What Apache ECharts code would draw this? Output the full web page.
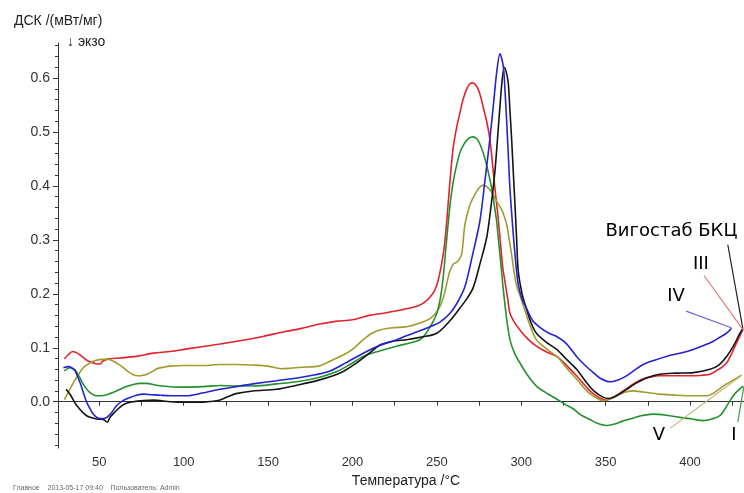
<!DOCTYPE html>
<html>
<head>
    <meta http-equiv="Content-Type" content="text/html; charset=utf-8" />
    <title>ДСК</title>
    <script src="https://cdn.jsdelivr.net/npm/echarts@6/dist/echarts.min.js"></script>
</head>
<body style="margin:0;padding:0;background:#ffffff;">
    <div id="main" style="width:744px;height:493px;"></div>
    <script type="text/javascript">
        /*************************************************************
        * data: [temperature °C, DSC mW/mg]
        *************************************************************/
        var xLabelValues = [50, 100, 150, 200, 250, 300, 350, 400];
        var xTickValues = [50, 75, 100, 125, 150, 175, 200, 225, 250, 275, 300, 325, 350, 375, 400, 425];
        var yLabelValues = [0, 0.1, 0.2, 0.3, 0.4, 0.5, 0.6];
        var yMinorValues = [-0.08, -0.06, -0.04, -0.02, 0, 0.02, 0.04, 0.06, 0.08, 0.1, 0.12, 0.14, 0.16, 0.18, 0.2,
            0.22, 0.24, 0.26, 0.28, 0.3, 0.32, 0.34, 0.36, 0.38, 0.4, 0.42, 0.44, 0.46, 0.48, 0.5,
            0.52, 0.54, 0.56, 0.58, 0.6, 0.62, 0.64, 0.66];

        // Вигостаб БКЦ
        var curveBlack = [[30.3,0.023],[33,0.012],[36.6,-0.007],[42.5,-0.026],[48.5,-0.032],[52.4,-0.033],[54.7,-0.038],
            [56.3,-0.029],[59,-0.02],[62.3,-0.01],[66,-0.003],[70,0.0],[76,0.002],[82,0.003],[92,0.0],[102,-0.001],
            [111.6,-0.001],[117,0.001],[121.5,0.003],[126,0.009],[131,0.015],[141,0.02],[155,0.023],[169,0.032],[180,0.04],
            [188.5,0.048],[195,0.057],[202.5,0.072],[210,0.09],[216.3,0.105],[224,0.112],[232,0.115],[241,0.12],
            [250,0.127],[257.7,0.15],[264,0.175],[268,0.192],[271.6,0.212],[275.5,0.255],[279.5,0.304],[282,0.36],
            [284.4,0.427],[286,0.49],[287.4,0.548],[288.8,0.6],[290,0.62],[291.2,0.61],[292.3,0.591],[293.3,0.54],
            [294.3,0.487],[295.3,0.425],[296.3,0.365],[297.3,0.3],[298.2,0.243],[300.5,0.2],[302.7,0.176],[306,0.145],
            [309,0.127],[315,0.11],[321,0.097],[327,0.078],[332.8,0.06],[338.8,0.035],[343,0.02],[348.6,0.008],
            [352,0.006],[356.5,0.011],[362,0.022],[368.4,0.035],[375,0.045],[382,0.051],[392,0.053],[402,0.054],
            [411.8,0.06],[417,0.068],[421.7,0.084],[426,0.105],[429.6,0.127],[431.4,0.136]];
        // III
        var curveRed = [[29.3,0.079],[31.5,0.087],[34.2,0.093],[37,0.09],[40,0.083],[43,0.076],[46.4,0.072],[48.6,0.07],
            [50.5,0.07],[52,0.075],[55,0.079],[62,0.081],[72,0.084],[82,0.09],[92,0.093],[102,0.098],[121.5,0.107],
            [135,0.114],[147,0.121],[160,0.13],[170,0.136],[180.7,0.144],[190,0.149],[200,0.152],[210,0.16],[220,0.165],
            [230,0.171],[239,0.178],[243,0.185],[246,0.194],[248.5,0.205],[250.5,0.222],[252.5,0.25],[254.5,0.29],
            [256,0.34],[257.8,0.41],[259.6,0.469],[261.5,0.505],[263.7,0.536],[265.5,0.56],[267.6,0.579],[269.5,0.589],
            [271,0.591],[272.8,0.588],[274.4,0.58],[276,0.565],[277.3,0.548],[279.5,0.52],[281.4,0.487],[283,0.44],
            [284.4,0.396],[286,0.35],[287.4,0.304],[289,0.25],[290.5,0.22],[292,0.19],[293.3,0.164],[296,0.147],
            [299.2,0.133],[304,0.116],[309,0.103],[315,0.092],[321,0.084],[327,0.067],[332.8,0.048],[337,0.033],
            [340.7,0.02],[344,0.012],[347,0.006],[350.6,0.003],[354,0.007],[358,0.015],[362.4,0.024],[367,0.034],
            [372,0.042],[377,0.046],[382,0.048],[392,0.048],[401.8,0.048],[407,0.049],[411.8,0.051],[416,0.058],
            [419,0.064],[421.7,0.072],[424.5,0.088],[427.6,0.109],[431.4,0.134]];
        // IV
        var curveBlue = [[28.7,0.063],[31.6,0.065],[33.5,0.063],[35.6,0.057],[38.6,0.035],[40.5,0.017],[42.5,-0.001],
            [44.5,-0.013],[46.4,-0.023],[48.5,-0.029],[50.4,-0.031],[52.4,-0.031],[54.4,-0.029],[57.3,-0.02],
            [60.3,-0.007],[64,0.002],[68.2,0.008],[72,0.012],[76,0.014],[81,0.013],[86,0.012],[94,0.011],[101.8,0.011],
            [111,0.016],[121.5,0.023],[131,0.028],[141,0.033],[155,0.039],[169,0.045],[178,0.05],[186.7,0.057],
            [196,0.072],[206.4,0.09],[216,0.104],[226.2,0.115],[236,0.127],[246,0.139],[252,0.148],[257.8,0.164],
            [262,0.183],[266.5,0.212],[271,0.27],[275.5,0.335],[278.5,0.41],[281.4,0.487],[283.5,0.55],[285.4,0.609],
            [287.4,0.645],[289.4,0.621],[290.4,0.575],[291.4,0.518],[292.3,0.46],[293.3,0.396],[294.8,0.33],
            [296.3,0.273],[298.2,0.218],[300.5,0.19],[302.7,0.176],[306.6,0.151],[311,0.138],[316.5,0.127],[321,0.121],
            [326.3,0.109],[332.8,0.084],[337,0.07],[342.7,0.054],[347,0.043],[352.5,0.037],[357,0.04],[362.4,0.048],
            [367,0.058],[372.3,0.069],[379,0.077],[386,0.084],[394,0.09],[402,0.097],[408,0.104],[413.8,0.112],
            [418,0.12],[421.7,0.127],[424.6,0.136]];
        // I
        var curveGreen = [[29.3,0.057],[32.6,0.063],[35.6,0.059],[38,0.047],[40.5,0.032],[42.5,0.023],[44.5,0.017],
            [48.5,0.011],[51,0.011],[54.4,0.013],[58,0.017],[62.3,0.023],[66,0.028],[70.1,0.032],[74,0.034],[78,0.034],
            [83,0.031],[87.9,0.029],[97.8,0.027],[111.6,0.028],[121.5,0.03],[131,0.029],[141,0.029],[155,0.033],
            [169,0.038],[180,0.045],[190,0.055],[198,0.068],[206.4,0.084],[216,0.094],[226,0.103],[234,0.109],
            [240,0.115],[243,0.124],[246,0.139],[248,0.15],[250,0.164],[252,0.19],[253.8,0.232],[255.5,0.29],
            [257.8,0.365],[259.8,0.41],[261.7,0.438],[263.5,0.46],[265.6,0.475],[268,0.486],[271.2,0.491],[273,0.489],
            [274.5,0.484],[276.5,0.47],[278.5,0.451],[280.5,0.425],[282.5,0.396],[284,0.365],[285.4,0.335],[286.5,0.3],
            [287.4,0.273],[288.4,0.24],[289.3,0.21],[291.3,0.155],[293.3,0.115],[296,0.09],[299.2,0.072],[304,0.048],
            [309,0.029],[315,0.016],[321,0.005],[326,-0.005],[330.8,-0.013],[335,-0.024],[340.7,-0.033],[345,-0.04],
            [350.6,-0.044],[356,-0.041],[360,-0.036],[364.4,-0.032],[371,-0.026],[378.2,-0.023],[386,-0.025],
            [394,-0.029],[401,-0.032],[407.8,-0.035],[413,-0.032],[417.7,-0.026],[421,-0.012],[425.6,0.011],
            [428.5,0.021],[431.5,0.029]];
        // V
        var curveOlive = [[29.3,0.004],[32,0.02],[34.6,0.035],[37.5,0.05],[40.5,0.063],[43.5,0.07],[46.4,0.075],
            [50,0.078],[54.4,0.079],[56.5,0.078],[58.3,0.075],[61,0.07],[64.2,0.063],[67,0.056],[70.1,0.05],[73,0.048],
            [76,0.049],[79,0.052],[82,0.057],[84,0.061],[88,0.064],[91.9,0.066],[100,0.067],[111.6,0.067],[121.5,0.069],
            [131,0.069],[141,0.068],[150,0.066],[158,0.061],[163,0.062],[170,0.064],[180,0.066],[186.7,0.075],
            [192,0.083],[196.6,0.09],[201,0.1],[206.4,0.115],[211,0.126],[216.3,0.133],[224,0.137],[232,0.139],
            [240,0.146],[246,0.154],[249,0.163],[251.8,0.176],[254,0.195],[255.8,0.218],[257.5,0.24],[259.7,0.255],
            [261.5,0.258],[262.7,0.261],[264.7,0.273],[266.6,0.328],[269.6,0.365],[271.5,0.378],[273.6,0.39],
            [275.5,0.398],[277.1,0.401],[279,0.4],[280.5,0.396],[282.5,0.388],[284.4,0.377],[286.5,0.366],[288.4,0.356],
            [290,0.343],[291.4,0.328],[292.9,0.3],[294.3,0.273],[295.8,0.24],[297.3,0.215],[300,0.19],[302.7,0.164],
            [306,0.135],[309,0.115],[315,0.098],[321,0.084],[323,0.078],[327,0.062],[332.8,0.042],[338.8,0.02],
            [343,0.01],[348.6,0.002],[353,0.006],[358.5,0.014],[362,0.018],[366.4,0.02],[372,0.018],[382,0.014],
            [392,0.012],[402,0.011],[409.9,0.011],[414,0.016],[419.7,0.029],[425,0.039],[430.5,0.049]];

        // curve labels: text, label position, leader line start/end
        var noteTexts = ['Вигостаб БКЦ', 'III', 'IV', 'V', 'I'];
        var notePos = [[389, 0.316], [406.5, 0.255], [391.7, 0.196], [381.6, -0.062], [426, -0.062]];
        var noteFrom = [[422.4, 0.291], [408.3, 0.234], [397.7, 0.168], [388.3, -0.049], [428.3, -0.038]];
        var noteTo = [[431.3, 0.136], [431.3, 0.134], [424.5, 0.137], [430.7, 0.049], [431.9, 0.028]];
        var noteColors = ['#222222', '#e07a7a', '#6a6ad8', '#bdb77a', '#3f9f45'];

        /*************************************************************
        * chart
        *************************************************************/
        var chart = echarts.init(document.getElementById('main'));
        var font = 'Liberation Sans, Arial, sans-serif';

        var curves = [
            { data: curveRed, color: '#e3222b' },
            { data: curveOlive, color: '#a29a2c' },
            { data: curveGreen, color: '#23912d' },
            { data: curveBlack, color: '#141414' },
            { data: curveBlue, color: '#2323cf' }
        ];

        var seriesList = [];
        for (var i = 0; i < curves.length; i++) {
            seriesList.push({
                type: 'line',
                data: curves[i].data,
                showSymbol: false,
                smooth: 0.3,
                silent: true,
                lineStyle: { color: curves[i].color, width: 1.6 }
            });
        }

        var leaderData = [];
        var textData = [];
        for (var j = 0; j < noteTexts.length; j++) {
            leaderData.push([
                { coord: noteFrom[j], lineStyle: { color: noteColors[j], width: 1.2, type: 'solid' } },
                { coord: noteTo[j] }
            ]);
            textData.push({ value: notePos[j], name: noteTexts[j] });
        }
        seriesList.push({
            type: 'scatter',
            data: textData,
            symbolSize: 0,
            silent: true,
            itemStyle: { opacity: 1 },
            label: {
                show: true,
                position: 'inside',
                formatter: '{b}',
                color: '#000000',
                opacity: 1,
                textBorderWidth: 0,
                fontSize: 18,
                fontFamily: 'DejaVu Sans, sans-serif'
            },
            markLine: {
                silent: true,
                symbol: ['none', 'none'],
                label: { show: false },
                data: leaderData
            }
        });

        var option = {
            animation: false,
            backgroundColor: '#ffffff',
            grid: { left: 58, right: 0, top: 43, bottom: 40 },
            xAxis: {
                type: 'value',
                min: 25.5,
                max: 432,
                name: 'Температура /°C',
                nameLocation: 'middle',
                nameGap: 22,
                nameTextStyle: { color: '#222', fontSize: 14, fontFamily: font, padding: [0, 0, 0, 10] },
                splitLine: { show: false },
                axisLine: { lineStyle: { color: '#333', width: 1 } },
                axisTick: { customValues: xTickValues, length: 4, lineStyle: { color: '#333' } },
                axisLabel: { customValues: xLabelValues, color: '#333', fontSize: 13, fontFamily: font, margin: 8 }
            },
            yAxis: [{
                type: 'value',
                min: -0.086,
                max: 0.665,
                splitLine: { show: false },
                axisLine: { show: true, lineStyle: { color: '#333', width: 1 } },
                axisTick: { show: true, customValues: yLabelValues, length: 5, lineStyle: { color: '#333' } },
                axisLabel: {
                    customValues: yLabelValues, color: '#333', fontSize: 14, fontFamily: font, margin: 8,
                    formatter: function (v) { return v.toFixed(1); }
                }
            }, {
                type: 'value',
                position: 'left',
                min: -0.086,
                max: 0.665,
                splitLine: { show: false },
                axisLine: { show: false },
                axisTick: { show: true, customValues: yMinorValues, length: 3, lineStyle: { color: '#333' } },
                axisLabel: { show: false }
            }],
            graphic: [
                { type: 'text', left: 14, top: 14, style: { text: 'ДСК /(мВт/мг)', fill: '#222', font: '14px ' + font } },
                { type: 'text', left: 67, top: 35, style: { text: '↓ экзо', fill: '#222', font: '14px ' + font } },
                { type: 'text', left: 13, top: 485, style: { text: 'Главное    2013-05-17 09:40    Пользователь: Admin', fill: '#666', font: '7px ' + font } }
            ],
            series: seriesList
        };
        chart.setOption(option);
    </script>
</body>
</html>
